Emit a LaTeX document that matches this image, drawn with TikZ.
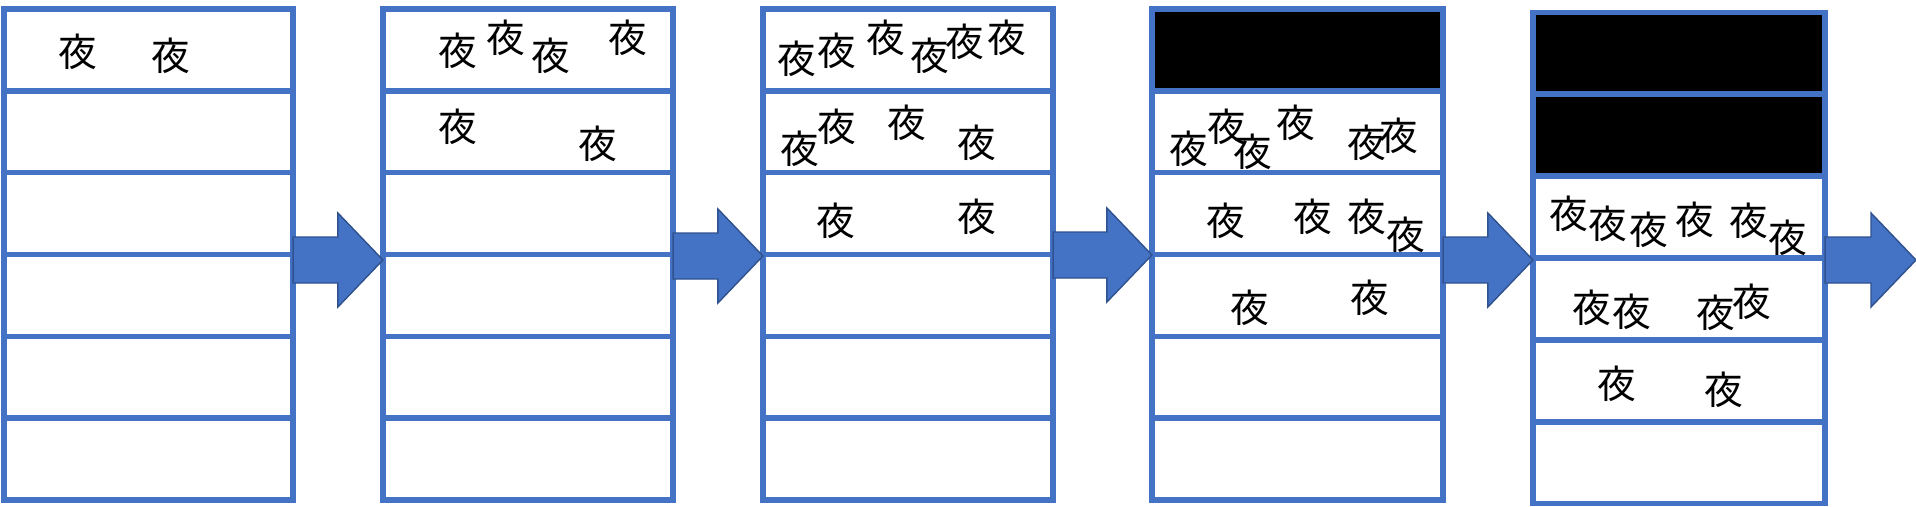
\documentclass[tikz,border=0pt]{standalone}
\usepackage{fontspec}
\newfontfamily\cjk{Noto Sans CJK JP}
\usepackage{tikz}
\usetikzlibrary{calc,backgrounds}
\definecolor{stackblue}{RGB}{68,114,196}
\definecolor{arrowedge}{RGB}{47,82,143}

\tikzset{
  stackbox/.style={draw=stackblue,line width=1.6pt,rectangle,inner sep=0pt,outer sep=0pt,minimum height=4.91cm},
  stackline/.style={stackblue,line width=1.6pt},
  blockarrow/.style={fill=stackblue,draw=arrowedge,line width=0.4pt,line join=miter},
  ye/.style={font=\cjk\fontsize{11}{12}\selectfont,inner sep=0pt}
}

% block arrow: from anchor, to anchor, height
\newcommand{\stackarrow}[3]{%
  \draw[blockarrow] ($(#1 |- 0,#3)+(0,-23)$) -- ($(#2 |- 0,#3)+(-45,-23)$) -- ++(0,-24)
    -- (#2 |- 0,#3) -- ++(-45,47) -- ++(0,-24) -- ($(#1 |- 0,#3)+(0,23)$) -- cycle;}

\begin{document}
\begin{tikzpicture}[x=0.01cm,y=-0.01cm]
\useasboundingbox (0,0) rectangle (1916,506);
% The stacks
\node[stackbox,minimum width=2.89cm] (col1) at (148.5,254.5) {};
\node[stackbox,minimum width=2.90cm] (col2) at (528,254.5) {};
\node[stackbox,minimum width=2.90cm] (col3) at (908,254.5) {};
\node[stackbox,minimum width=2.91cm] (col4) at (1297.5,254.5) {};
\node[stackbox,minimum width=2.92cm] (col5) at (1679,258) {};
\coordinate (edge) at (1916,260);
% Filled slots
\begin{scope}[on background layer]
\fill (col4.north west) rectangle ($(col4.north east)!1/6!(col4.south east)$);
\fill (col5.north west) rectangle ($(col5.north east)!2/6!(col5.south east)$);
\end{scope}
% Slot separators
\foreach \c in {1,...,5}
  \foreach \k in {1,...,5}
    \draw[stackline] ($(col\c.north west)!\k/6!(col\c.south west)$) -- ($(col\c.north east)!\k/6!(col\c.south east)$);
% Arrows
\stackarrow{col1.east}{col2.west}{260}
\stackarrow{col2.east}{col3.west}{256}
\stackarrow{col3.east}{col4.west}{255}
\stackarrow{col4.east}{col5.west}{260}
\stackarrow{col5.east}{edge}{260}
% Characters
\foreach \x/\y [count=\i] in {78/52,171/56}
  \node[ye] (a-\i) at (\x,\y) {夜};
\foreach \x/\y [count=\i] in {458/51,506/38,551/56,628/38,458/127,598/144}
  \node[ye] (b-\i) at (\x,\y) {夜};
\foreach \x/\y [count=\i] in {797/59,837/51,886/38,930/56,965/42,1007/38,800/149,837/127,907/123,977/143,836/221,977/217}
  \node[ye] (c-\i) at (\x,\y) {夜};
\foreach \x/\y [count=\i] in {1189/149,1227/127,1253/152,1296/123,1367/143,1399/136,1226/221,1313/217,1367/217,1406/235,1250/308,1370/298}
  \node[ye] (d-\i) at (\x,\y) {夜};
\foreach \x/\y [count=\i] in {1569/214,1608/224,1649/230,1695/220,1749/221,1788/238,1592/308,1632/312,1716/313,1752/302,1617/384,1724/390}
  \node[ye] (e-\i) at (\x,\y) {夜};
\end{tikzpicture}
\end{document}
